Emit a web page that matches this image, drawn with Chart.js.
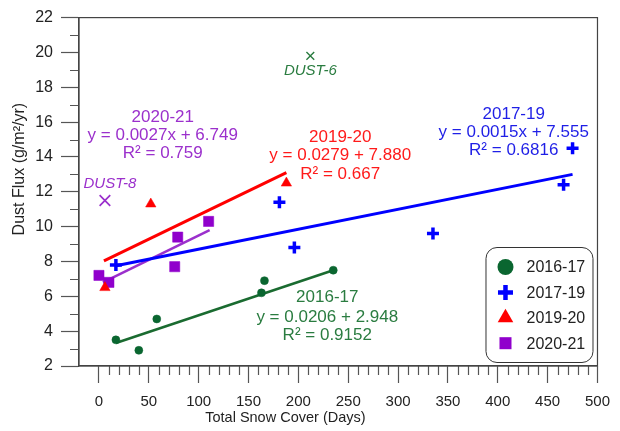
<!DOCTYPE html>
<html>
<head>
<meta charset="utf-8">
<script src="https://cdn.jsdelivr.net/npm/chart.js@4.4.1/dist/chart.umd.min.js"></script>
<style>
  html, body { margin: 0; padding: 0; background: #fff; }
  #wrap { width: 620px; height: 431px; }
</style>
</head>
<body>
<div id="wrap"><canvas id="chart" width="620" height="431"></canvas></div>
<script>
// snow cover (days) vs dust flux (g/m2/yr), one set per season
let days1617 = [17, 40, 58, 163, 166, 235];
let flux1617 = [3.5, 2.9, 4.7, 6.2, 6.9, 7.5];

let days1719 = [17, 181, 196, 335, 466, 475];
let flux1719 = [7.8, 11.4, 8.8, 9.6, 12.4, 14.5];

let days1920 = [6, 52, 188];
let flux1920 = [6.5, 11.3, 12.5];

let days2021 = [0, 10, 76, 79, 110];
let flux2021 = [7.2, 6.8, 7.7, 9.4, 10.3];

// fitted lines, start/end
let trend1617 = [[17, 3.32], [235, 7.5]];
let trend1719 = [[17, 7.75], [475, 13.0]];
let trend1920 = [[5, 8.03], [188, 13.1]];
let trend2021 = [[4, 6.8], [111, 9.8]];

// outliers left out of the fits
let dust6 = [212, 19.8];
let dust8 = [6, 11.5];

let xTicks = [0, 50, 100, 150, 200, 250, 300, 350, 400, 450, 500];
let seasons = ['2016-17', '2017-19', '2019-20', '2020-21'];
let markerColors = ['#0a6630', '#0000ff', '#ff0000', '#9000cc'];
let textColors = ['#2a7c40', '#1f1fe6', '#ff1a1a', '#9b30cc'];

// equation blocks: [x, y, text, colour index]
let notes = [
  [64, 16.30, '2020-21', 3],
  [64, 15.26, 'y = 0.0027x + 6.749', 3],
  [64, 14.21, 'R² = 0.759', 3],
  [242, 15.13, '2019-20', 2],
  [242, 14.08, 'y = 0.0279 + 7.880', 2],
  [242, 13.0, 'R² = 0.667', 2],
  [416, 16.47, '2017-19', 1],
  [416, 15.43, 'y = 0.0015x + 7.555', 1],
  [416, 14.37, 'R² = 0.6816', 1],
  [229, 5.95, '2016-17', 0],
  [229, 4.80, 'y = 0.0206 + 2.948', 0],
  [229, 3.77, 'R² = 0.9152', 0]
];
let dustLabels = [
  [212, 18.92, 'DUST-6', 0],
  [11, 12.46, 'DUST-8', 3]
];

function pts(xs, ys) {
  return xs.map((x, i) => ({x: x, y: ys[i]}));
}
function line(p) {
  return p.map(d => ({x: d[0], y: d[1]}));
}

const FONT = "'Liberation Sans', Arial, sans-serif";

let legendStyles = [
  {pointStyle: 'circle', radius: 8, borderWidth: 0},
  {pointStyle: 'cross', radius: 7.5, borderWidth: 4.5},
  {pointStyle: 'triangle', radius: 9, borderWidth: 0},
  {pointStyle: 'rect', radius: 8.5, borderWidth: 0}
];

const extras = {
  id: 'extras',
  afterDraw(chart) {
    const ctx = chart.ctx;
    const a = chart.chartArea;
    const xs = chart.scales.x, ys = chart.scales.y;
    ctx.save();

    // minor ticks
    ctx.strokeStyle = '#555';
    ctx.lineWidth = 1.2;
    ctx.beginPath();
    for (let v = 10; v < 500; v += 10) {
      if (v % 50 === 0) continue;
      const px = Math.round(xs.getPixelForValue(v)) + 0.5;
      ctx.moveTo(px, a.bottom);
      ctx.lineTo(px, a.bottom + 9);
    }
    for (let v = 3; v < 22; v += 2) {
      const py = Math.round(ys.getPixelForValue(v)) + 0.5;
      ctx.moveTo(a.left - 9, py);
      ctx.lineTo(a.left, py);
    }
    ctx.stroke();

    // frame
    ctx.strokeStyle = '#444';
    ctx.lineWidth = 1.2;
    ctx.strokeRect(a.left, a.top, a.right - a.left, a.bottom - a.top);

    // axis titles (sit left of centre, as in the original figure)
    ctx.fillStyle = '#222';
    ctx.textAlign = 'center';
    ctx.textBaseline = 'middle';
    ctx.font = '14.5px ' + FONT;
    ctx.fillText('Total Snow Cover (Days)', xs.getPixelForValue(187), 418);
    ctx.save();
    ctx.translate(20, ys.getPixelForValue(13.3));
    ctx.rotate(-Math.PI / 2);
    ctx.font = '16px ' + FONT;
    ctx.fillText('Dust Flux (g/m²/yr)', 0, 0);
    ctx.restore();

    // equations
    ctx.font = '17px ' + FONT;
    notes.forEach(n => {
      ctx.fillStyle = textColors[n[3]];
      ctx.fillText(n[2], xs.getPixelForValue(n[0]), ys.getPixelForValue(n[1]));
    });
    ctx.font = 'italic 15px ' + FONT;
    dustLabels.forEach(n => {
      ctx.fillStyle = textColors[n[3]];
      ctx.fillText(n[2], xs.getPixelForValue(n[0]), ys.getPixelForValue(n[1]));
    });

    // legend box
    const w = 107, h = 115;
    const bx = a.right - 5 - w, by = a.bottom - 4 - h;
    ctx.strokeStyle = '#333';
    ctx.lineWidth = 1;
    ctx.beginPath();
    ctx.roundRect(bx + 0.5, by + 0.5, w, h, 11);
    ctx.stroke();
    ctx.textAlign = 'left';
    ctx.font = '16px ' + FONT;
    seasons.forEach((s, i) => {
      const cy = by + 20 + i * 25.4;
      const st = legendStyles[i];
      ctx.fillStyle = markerColors[i];
      ctx.strokeStyle = markerColors[i];
      ctx.lineWidth = st.borderWidth;
      Chart.helpers.drawPoint(ctx, {pointStyle: st.pointStyle, radius: st.radius, rotation: 0, borderWidth: st.borderWidth}, bx + 20, cy);
      ctx.fillStyle = '#222';
      ctx.fillText(s, bx + 41, cy + 1);
    });
    ctx.restore();
  }
};

new Chart(document.getElementById('chart'), {
  type: 'scatter',
  data: {
    datasets: [
      {label: seasons[0], data: pts(days1617, flux1617), pointStyle: 'circle', pointRadius: 4, borderWidth: 0.5,
        backgroundColor: markerColors[0], borderColor: markerColors[0], order: 0},
      {label: seasons[1], data: pts(days1719, flux1719), pointStyle: 'cross', pointRadius: 6, borderWidth: 3.5,
        backgroundColor: markerColors[1], borderColor: markerColors[1], order: 0},
      {label: seasons[2], data: pts(days1920, flux1920), pointStyle: 'triangle', pointRadius: 6, borderWidth: 0.5,
        backgroundColor: markerColors[2], borderColor: markerColors[2], order: 0},
      {label: seasons[3], data: pts(days2021, flux2021), pointStyle: 'rect', pointRadius: 7.2, borderWidth: 0.5,
        backgroundColor: markerColors[3], borderColor: markerColors[3], order: 0},
      {label: 'fit 2016-17', data: line(trend1617), showLine: true, pointRadius: 0, borderWidth: 2.6,
        borderColor: '#1a6b30', order: 1},
      {label: 'fit 2017-19', data: line(trend1719), showLine: true, pointRadius: 0, borderWidth: 3,
        borderColor: '#0000ff', order: 1},
      {label: 'fit 2019-20', data: line(trend1920), showLine: true, pointRadius: 0, borderWidth: 3,
        borderColor: '#ff0000', order: 1},
      {label: 'fit 2020-21', data: line(trend2021), showLine: true, pointRadius: 0, borderWidth: 2.6,
        borderColor: '#9b30cc', order: 1},
      {label: 'DUST-6', data: [{x: dust6[0], y: dust6[1]}], pointStyle: 'crossRot', pointRadius: 5.5, borderWidth: 1.4,
        borderColor: '#2a7c40', order: 0},
      {label: 'DUST-8', data: [{x: dust8[0], y: dust8[1]}], pointStyle: 'crossRot', pointRadius: 7.5, borderWidth: 1.7,
        borderColor: '#9b30cc', order: 0}
    ]
  },
  options: {
    responsive: false,
    animation: false,
    layout: {padding: {top: 15, right: 15, left: 0, bottom: 0}},
    plugins: {legend: {display: false}, tooltip: {enabled: false}},
    scales: {
      x: {
        type: 'linear', min: -20, max: 500,
        afterBuildTicks: s => { s.ticks = xTicks.map(v => ({value: v})); },
        afterFit: s => { s.height = 65; },
        ticks: {color: '#222', padding: 10, maxRotation: 0, autoSkip: false, font: {family: FONT, size: 15}},
        grid: {drawOnChartArea: false, tickLength: 17, tickColor: '#555', tickWidth: 1.2},
        border: {display: true, color: '#444', width: 1.2}
      },
      y: {
        min: 2, max: 22,
        afterFit: s => { s.width = 79; },
        ticks: {stepSize: 2, color: '#222', padding: 8, font: {family: FONT, size: 16}},
        grid: {drawOnChartArea: false, tickLength: 18, tickColor: '#555', tickWidth: 1.2},
        border: {display: true, color: '#444', width: 1.2}
      }
    }
  },
  plugins: [extras]
});
</script>
</body>
</html>
